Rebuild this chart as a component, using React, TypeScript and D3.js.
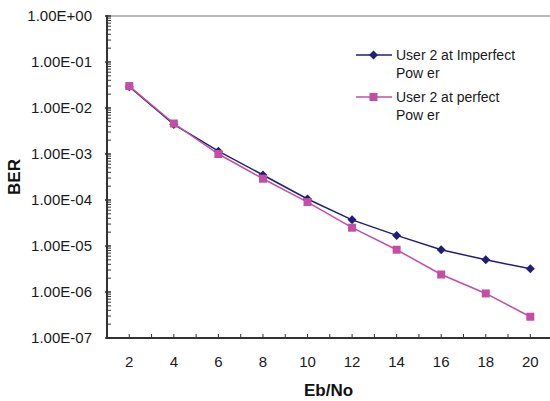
import React from "react";
import * as d3 from "d3";

const ebNo = [2, 4, 6, 8, 10, 12, 14, 16, 18, 20];
const imperfect = [2.9e-2, 4.4e-3, 1.15e-3, 3.5e-4, 1.05e-4, 3.7e-5, 1.7e-5, 8.3e-6, 5.0e-6, 3.2e-6];
const perfect = [3.0e-2, 4.6e-3, 1.0e-3, 2.9e-4, 9.0e-5, 2.5e-5, 8.3e-6, 2.4e-6, 9.3e-7, 2.9e-7];
const yTickLabels = ["1.00E+00", "1.00E-01", "1.00E-02", "1.00E-03", "1.00E-04", "1.00E-05", "1.00E-06", "1.00E-07"];
const seriesNames = ["User 2 at Imperfect", "Pow er", "User 2 at perfect", "Pow er"];

const W = 550, H = 401;
const L = 107, R = 552.6, T = 16, B = 338;
const BLUE = "#1f1f78";
const PINK = "#c24ea6";

export default function App() {
  const x = d3.scaleLinear().domain([1, 21]).range([L, R]);
  const y = d3.scaleLog().domain([1e-7, 1]).range([B, T]);
  const line = d3.line<[number, number]>().x(d => x(d[0])).y(d => y(d[1]));
  const blueData = ebNo.map((e, i) => [e, imperfect[i]] as [number, number]);
  const pinkData = ebNo.map((e, i) => [e, perfect[i]] as [number, number]);

  const majors = d3.range(0, 8).map(k => Math.pow(10, -k));
  const minors: number[] = [];
  for (let k = 1; k <= 7; k++) {
    for (let m = 2; m <= 9; m++) minors.push(m * Math.pow(10, -k));
  }
  const xTicks = d3.range(1, 22);
  const diamond = (cx: number, cy: number, r: number) =>
    `M${cx},${cy - r}L${cx + r},${cy}L${cx},${cy + r}L${cx - r},${cy}Z`;

  const font = "Arial, 'Liberation Sans', sans-serif";
  return (
    <svg width={W} height={H} style={{ position: "absolute", left: 0, top: 0 }} fontFamily={font}>
      <rect width={W} height={H} fill="#fff" />
      <line x1={L} x2={W} y1={y(1)} y2={y(1)} stroke="#a0a0a0" strokeWidth={1.5} />
      {minors.map((v, i) => (
        <line key={"mn" + i} x1={L} x2={L + 4} y1={y(v)} y2={y(v)} stroke="#333" strokeWidth={1} />
      ))}
      {majors.map((v, i) => (
        <line key={"mj" + i} x1={L - 2} x2={L + 4} y1={y(v)} y2={y(v)} stroke="#333" strokeWidth={1.5} />
      ))}
      {yTickLabels.map((t, i) => (
        <text key={"yl" + i} x={92} y={y(majors[i])} dy="0.35em" textAnchor="end" fontSize={15} fill="#1a1a1a">{t}</text>
      ))}
      {xTicks.map(t => (
        <line key={"xt" + t} x1={x(t)} x2={x(t)} y1={B} y2={B - 4} stroke="#333" strokeWidth={1} />
      ))}
      {ebNo.map(e => (
        <text key={"xl" + e} x={x(e)} y={362} dy="0.35em" textAnchor="middle" fontSize={15} fill="#1a1a1a">{e}</text>
      ))}
      <line x1={L} x2={L} y1={T - 1} y2={B + 1} stroke="#333" strokeWidth={2} />
      <line x1={L - 1} x2={W} y1={B} y2={B} stroke="#333" strokeWidth={2} />
      <path d={line(blueData) || ""} fill="none" stroke={BLUE} strokeWidth={1.5} />
      <path d={line(pinkData) || ""} fill="none" stroke={PINK} strokeWidth={1.5} />
      {blueData.map((d, i) => (
        <path key={"bd" + i} d={diamond(x(d[0]), y(d[1]), 4.5)} fill={BLUE} />
      ))}
      {pinkData.map((d, i) => (
        <rect key={"pd" + i} x={x(d[0]) - 4} y={y(d[1]) - 4} width={8} height={8} fill={PINK} />
      ))}
      <line x1={356} x2={392} y1={55} y2={55} stroke={BLUE} strokeWidth={1.5} />
      <path d={diamond(373.5, 55, 4.5)} fill={BLUE} />
      <text x={396} y={55} dy="0.35em" fontSize={14} fill="#1a1a1a">{seriesNames[0]}</text>
      <text x={396} y={73} dy="0.35em" fontSize={14} fill="#1a1a1a">{seriesNames[1]}</text>
      <line x1={356} x2={392} y1={97} y2={97} stroke={PINK} strokeWidth={1.5} />
      <rect x={369.5} y={93} width={8} height={8} fill={PINK} />
      <text x={396} y={97} dy="0.35em" fontSize={14} fill="#1a1a1a">{seriesNames[2]}</text>
      <text x={396} y={115.5} dy="0.35em" fontSize={14} fill="#1a1a1a">{seriesNames[3]}</text>
      <text transform={`translate(20,${(T + B) / 2}) rotate(-90)`} textAnchor="middle" fontSize={17} fontWeight="bold" fill="#111">BER</text>
      <text x={(L + W) / 2} y={390} dy="0.35em" textAnchor="middle" fontSize={17} fontWeight="bold" fill="#111">Eb/No</text>
    </svg>
  );
}
